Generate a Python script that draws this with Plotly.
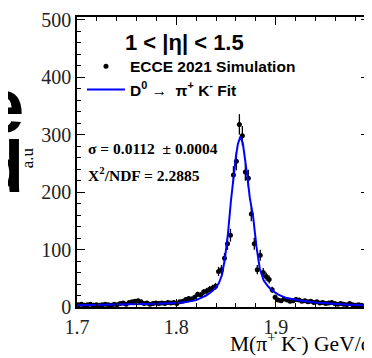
import numpy as np
import plotly.graph_objects as go

# ---- data ----
mass = [1.7015, 1.7045, 1.7075, 1.7105, 1.7135, 1.7165, 1.7195, 1.7225, 1.7255, 1.7285,
        1.7315, 1.7345, 1.7375, 1.7405, 1.7435, 1.7465, 1.7495, 1.7525, 1.7555, 1.7585,
        1.7615, 1.7645, 1.7675, 1.7705, 1.7735, 1.7765, 1.7795, 1.7825, 1.7855, 1.7885,
        1.7915, 1.7945, 1.7975, 1.8005, 1.8035, 1.8065, 1.8095, 1.8125, 1.8155, 1.8185,
        1.8215, 1.8245, 1.8275, 1.8305, 1.8335, 1.8365, 1.8395, 1.8425, 1.8455, 1.8485,
        1.8515, 1.8545, 1.8575, 1.8605, 1.8635, 1.8665, 1.8695, 1.8725, 1.8755, 1.8785,
        1.8815, 1.8845, 1.8875, 1.8905, 1.8935, 1.8965, 1.8995, 1.9025, 1.9055, 1.9085,
        1.9115, 1.9145, 1.9175, 1.9205, 1.9235, 1.9265, 1.9295, 1.9325, 1.9355, 1.9385,
        1.9415, 1.9445, 1.9475, 1.9505, 1.9535, 1.9565, 1.9595, 1.9625, 1.9655, 1.9685,
        1.9715, 1.9745, 1.9775, 1.9805, 1.9835, 1.9865, 1.9895, 1.9925]
counts = [4, 5, 3, 4, 5, 3, 4, 3, 4, 5,
          4, 3, 5, 4, 6, 7, 5, 8, 9, 10,
          11, 9, 6, 7, 5, 6, 7, 6, 7, 6,
          8, 7, 8, 6, 9, 10, 13, 15, 14, 17,
          22, 21, 26, 28, 31, 33, 36, 62, 65, 85,
          110, 125, 230, 254, 318, 298, 235, 224, 162, 110,
          65, 90, 60, 53, 48, 30, 17, 12, 11, 14,
          12, 10, 11, 13, 12, 10, 11, 9, 10, 8,
          9, 7, 8, 6, 7, 8, 6, 5, 6, 5,
          4, 6, 4, 3, 4, 3, 2, 3]
errors = list(np.sqrt(counts))  # Poisson errors of the histogram

fit_x = [1.700, 1.720, 1.740, 1.760, 1.780, 1.800, 1.810, 1.820, 1.826, 1.830,
         1.835, 1.840, 1.843, 1.846, 1.849, 1.852, 1.855, 1.858, 1.860, 1.862,
         1.8645, 1.867, 1.869, 1.8713, 1.874, 1.8773, 1.8807, 1.884, 1.888, 1.8923,
         1.897, 1.9023, 1.910, 1.9257, 1.940, 1.959, 1.975, 1.994]
fit_y = [3, 3.5, 4, 4.5, 5.5, 7, 8.5, 12, 16, 20,
         26, 34, 42, 56, 85, 128, 185, 235, 262, 284,
         297, 285, 262, 230, 190, 158, 105, 67, 46, 36,
         28, 22, 16, 11, 8, 5.5, 4, 2.5]

x_ticks = [1.7, 1.8, 1.9]
y_ticks = [0, 100, 200, 300, 400, 500]

serif = "Liberation Serif, Times New Roman, serif"
sans = "Liberation Sans, Arial, Helvetica, sans-serif"

fig = go.Figure()
fig.add_trace(go.Scatter(
    x=mass, y=counts, mode="markers",
    marker=dict(color="black", size=5, symbol="circle"),
    error_y=dict(type="data", array=errors, visible=True, color="black",
                 thickness=1.3, width=0),
    name="<b>ECCE 2021 Simulation</b>", legendgroup="a"))
fig.add_trace(go.Scatter(
    x=fit_x, y=fit_y, mode="lines",
    line=dict(color="#0000ff", width=2),
    name="<b>D<sup>0</sup> \u2192  \u03c0<sup>+</sup> K<sup>-</sup> Fit</b>", legendgroup="b"))

# The page body has an 8 px default margin, so the figure is made 8 px
# smaller and the margins are given relative to that offset.
OFF = 8
W, H = 372 - OFF, 358 - OFF
PL, PR, PT, PB = 77, 371, 15, 307          # plot frame in window pixels
L, T = PL - OFF, PT - OFF
R, B = W - (PR - OFF), H - (PB - OFF)
pw, ph = PR - PL, PB - PT


def px(xp):
    return (xp - PL) / pw


def py(yp):
    return (PB - yp) / ph


axis_common = dict(showline=True, linecolor="black", linewidth=1.5, mirror="allticks",
                   ticks="inside", tickcolor="black", tickwidth=1, ticklen=8,
                   showgrid=False, zeroline=False, ticklabeloverflow="allow",
                   tickfont=dict(family=serif, size=20, color="#222"))

fig.update_xaxes(range=[1.7, 1.994], tickvals=x_ticks,
                 ticktext=[f"{v:.1f}" for v in x_ticks],
                 minor=dict(tick0=1.7, dtick=0.02, ticks="inside", ticklen=4,
                            tickcolor="black", tickwidth=1, showgrid=False),
                 ticklabelstandoff=1,
                 **axis_common)
fig.update_yaxes(range=[0, 505], tickvals=y_ticks,
                 minor=dict(tick0=0, dtick=20, ticks="inside", ticklen=4,
                            tickcolor="black", tickwidth=1, showgrid=False),
                 **axis_common)

ann = [
    dict(text="<b>1 &lt; |\u03b7| &lt; 1.5</b>", x=px(185), y=py(41),
         font=dict(family=sans, size=22, color="black"), xanchor="center", yanchor="middle"),
    dict(text="<b>\u03c3 = 0.0112  \u00b1 0.0004</b>", x=px(86), y=py(147),
         font=dict(family=serif, size=15.5, color="black"), xanchor="left", yanchor="middle"),
    dict(text="<b>\u03a7<sup>2</sup>/NDF = 2.2885</b>", x=px(86), y=py(173),
         font=dict(family=serif, size=15.5, color="black"), xanchor="left", yanchor="middle"),
    dict(text="M(\u03c0<sup>+</sup> K<sup>-</sup>) GeV/c", x=px(374), y=py(343),
         font=dict(family=serif, size=21.5, color="black"), xanchor="right", yanchor="middle"),
    dict(text="a.u", x=px(27), y=py(157), textangle=-90,
         font=dict(family=serif, size=17, color="black"), xanchor="center", yanchor="middle"),
    dict(text="<b>e</b>", x=px(26), y=py(104),
         font=dict(family=sans, size=76, color="black"), xanchor="right", yanchor="middle"),
    dict(text="<b>d</b>", x=px(26), y=py(166),
         font=dict(family=sans, size=72, color="black"), xanchor="right", yanchor="middle"),
]
for a in ann:
    a.update(xref="paper", yref="paper", showarrow=False)

fig.update_layout(
    width=W, height=H, margin=dict(l=L, r=R, t=T, b=B),
    plot_bgcolor="white", paper_bgcolor="white",
    showlegend=True,
    legend=dict(x=px(82), y=py(48), xanchor="left", yanchor="top",
                bgcolor="rgba(0,0,0,0)", borderwidth=0,
                font=dict(family=sans, size=15.5, color="black"),
                traceorder="grouped", tracegroupgap=0, itemwidth=38),
    annotations=ann,
)

fig.write_html("out.html")
